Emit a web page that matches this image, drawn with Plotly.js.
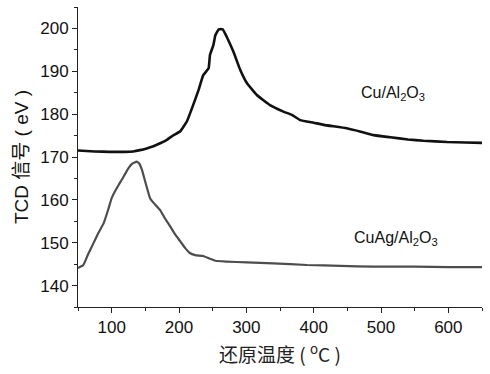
<!DOCTYPE html>
<html>
<head>
<meta charset="utf-8">
<script src="https://cdn.plot.ly/plotly-3.0.1.min.js"></script>
<style>html,body{margin:0;padding:0;background:#fff;}#chart{width:490px;height:374px;}</style>
</head>
<body>
<div id="chart"></div>
<script>
// Cu/Al2O3 series
const cuTemp = [50, 75, 97, 120, 132, 142, 152, 162, 172, 182, 192, 202, 212, 221, 229, 236, 244, 246, 251, 254, 259, 265, 271, 281, 291, 301, 316, 335, 355, 368, 380, 400, 415, 449, 470, 489, 514, 540, 563, 598, 625, 650];
const cuSignal = [171.5, 171.3, 171.2, 171.2, 171.3, 171.6, 172.0, 172.5, 173.2, 174.0, 175.1, 176.0, 178.4, 182.1, 185.6, 189.1, 190.7, 193.8, 196.1, 198.4, 199.8, 199.8, 198.0, 194.5, 190.3, 187.2, 184.4, 182.1, 180.6, 179.8, 178.6, 178.0, 177.5, 176.7, 175.9, 175.1, 174.6, 174.1, 173.8, 173.5, 173.4, 173.3];
// CuAg/Al2O3 series
const cuagTemp = [50, 58, 65, 73, 80, 88, 95, 100, 106, 112, 118, 125, 131, 137, 141, 145, 151, 157, 164, 172, 179, 187, 194, 202, 209, 216, 224, 236, 245, 254, 270, 301, 340, 390, 440, 489, 550, 600, 650];
const cuagSignal = [144.1, 144.8, 147.3, 149.9, 152.2, 154.5, 157.8, 160.4, 162.3, 163.9, 165.5, 167.4, 168.5, 168.9, 168.5, 167.0, 163.6, 160.4, 159.0, 157.6, 155.7, 153.8, 152.0, 150.3, 148.8, 147.6, 147.1, 146.9, 146.3, 145.8, 145.6, 145.4, 145.2, 144.8, 144.6, 144.4, 144.4, 144.3, 144.3];
const labels = ["Cu/Al<sub>2</sub>O<sub>3</sub>", "CuAg/Al<sub>2</sub>O<sub>3</sub>"];
const labelX = [518, 522];
const labelY = [184.9, 151.1];

const traces = [
  {x: cuTemp, y: cuSignal, mode: 'lines', line: {color: '#111111', width: 2.6, shape: 'spline', smoothing: 0.3}, showlegend: false},
  {x: cuagTemp, y: cuagSignal, mode: 'lines', line: {color: '#4d4d4d', width: 2.2, shape: 'spline', smoothing: 0.3}, showlegend: false}
];

const font = {family: 'Liberation Sans, Arial, sans-serif', size: 17, color: '#111'};
const layout = {
  width: 490, height: 374,
  margin: {l: 78, r: 8, t: 7, b: 67},
  paper_bgcolor: '#fff', plot_bgcolor: '#fff',
  font: font,
  showlegend: false,
  xaxis: {
    range: [50, 650], showgrid: false, zeroline: false,
    showline: true, linecolor: '#222', linewidth: 1,
    ticks: 'outside', ticklen: 5, tickcolor: '#222', dtick: 100, tick0: 0,
    minor: {ticks: 'outside', ticklen: 3, dtick: 50, tick0: 0, tickcolor: '#222'},
    tickfont: font,
    title: {text: '还原温度 ( <sup>o</sup>C )', font: {family: 'Noto Sans CJK SC, Liberation Sans, sans-serif', size: 19, color: '#222'}, standoff: 12}
  },
  yaxis: {
    range: [135, 205], showgrid: false, zeroline: false,
    showline: true, linecolor: '#222', linewidth: 1,
    ticks: 'outside', ticklen: 5, tickcolor: '#222', dtick: 10, tick0: 0,
    minor: {ticks: 'outside', ticklen: 3, dtick: 5, tick0: 0, tickcolor: '#222'},
    tickfont: font,
    title: {text: 'TCD 信号 ( eV )', font: {family: 'Liberation Sans, Noto Sans CJK SC, sans-serif', size: 19, color: '#111'}, standoff: 6}
  },
  annotations: labels.map((t, i) => ({x: labelX[i], y: labelY[i], text: t, showarrow: false, font: {family: 'Liberation Sans, Arial, sans-serif', size: 16, color: '#111'}}))
};

Plotly.newPlot('chart', traces, layout, {displayModeBar: false, staticPlot: true});
</script>
</body>
</html>
